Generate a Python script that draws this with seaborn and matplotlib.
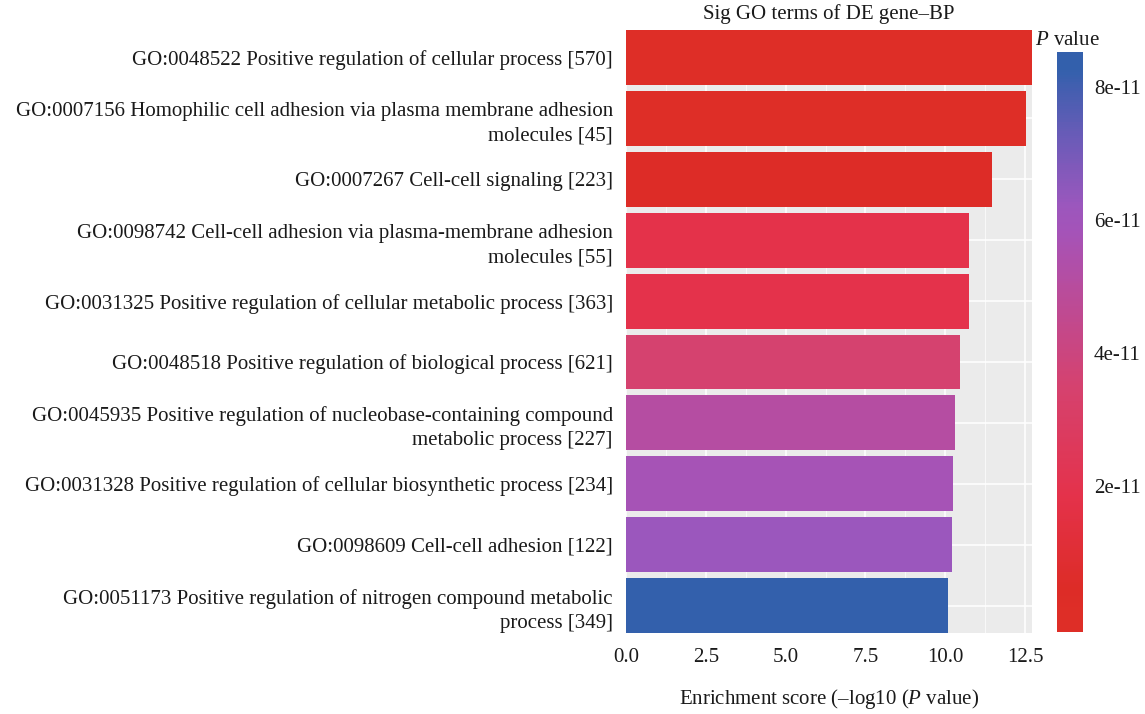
import matplotlib
matplotlib.use("Agg")
import matplotlib.pyplot as plt
import numpy as np
import pandas as pd
import seaborn as sns
from matplotlib.colors import LinearSegmentedColormap, ListedColormap, Normalize
from matplotlib.cm import ScalarMappable
from matplotlib.ticker import MultipleLocator, FuncFormatter

# GO terms (top to bottom) as in the figure
terms = [
    "GO:0048522 Positive regulation of cellular process [570]",
    "GO:0007156 Homophilic cell adhesion via plasma membrane adhesion\nmolecules [45]",
    "GO:0007267 Cell-cell signaling [223]",
    "GO:0098742 Cell-cell adhesion via plasma-membrane adhesion\nmolecules [55]",
    "GO:0031325 Positive regulation of cellular metabolic process [363]",
    "GO:0048518 Positive regulation of biological process [621]",
    "GO:0045935 Positive regulation of nucleobase-containing compound\nmetabolic process [227]",
    "GO:0031328 Positive regulation of cellular biosynthetic process [234]",
    "GO:0098609 Cell-cell adhesion [122]",
    "GO:0051173 Positive regulation of nitrogen compound metabolic\nprocess [349]",
]
scores = [12.71, 12.52, 11.46, 10.74, 10.73, 10.46, 10.29, 10.24, 10.21, 10.08]
p_values = [1.95e-13, 3.0e-13, 3.5e-12, 1.82e-11, 1.86e-11, 3.5e-11, 5.1e-11, 5.75e-11, 6.2e-11, 8.3e-11]
cbar_ticks = [2e-11, 4e-11, 6e-11, 8e-11]

df = pd.DataFrame({"term": terms, "score": scores, "p": p_values})

sns.set_theme(style="darkgrid")
plt.rcParams["font.family"] = ["Liberation Serif", "DejaVu Serif"]
plt.rcParams["mathtext.fontset"] = "custom"
plt.rcParams["mathtext.rm"] = "Liberation Serif"
plt.rcParams["mathtext.it"] = "Liberation Serif:italic"
FS = 15
TXT = "#1a1a1a"

# red -> blue gradient as it looks in the printed figure
cmap = LinearSegmentedColormap.from_list("pval", [
    (0.0, "#DE2E27"),
    (0.05, "#DD2C27"),
    (0.22, "#E4324B"),
    (0.42, "#D5426F"),
    (0.61, "#B64DA0"),
    (0.70, "#A553B8"),
    (0.75, "#9B57BD"),
    (0.87, "#6C5BB8"),
    (1.0, "#3360AC"),
])
norm = Normalize(vmin=min(p_values), vmax=max(p_values))
bar_colors = [cmap(norm(v)) for v in p_values]

fig = plt.figure(figsize=(11.45, 7.14), dpi=100)
ax = fig.add_axes([0.5467, 0.1134, 0.3545, 0.8445])
ax.set_facecolor("#EBEBEB")

sns.barplot(data=df, x="score", y="term", hue="term", palette=bar_colors,
            legend=False, width=0.9, saturation=1, linewidth=0, ax=ax)

ax.set_xlim(0, max(scores))
ax.set_ylim(len(terms) - 0.55, -0.45)
ax.xaxis.set_major_locator(MultipleLocator(2.5))
ax.xaxis.set_minor_locator(MultipleLocator(1.25))
ax.xaxis.set_major_formatter(FuncFormatter(lambda v, _: f"{v:.1f}"))
ax.set_axisbelow(True)
ax.grid(which="major", color="white", linewidth=1.1)
ax.grid(which="minor", axis="x", color="white", linewidth=0.5)
ax.grid(which="minor", axis="y", visible=False)
for s in ax.spines.values():
    s.set_visible(False)

ax.tick_params(axis="both", which="major", length=3.5, width=0.8, color="#333333",
               labelsize=FS, labelcolor=TXT)
ax.tick_params(axis="x", which="major", pad=7)
ax.tick_params(axis="x", which="minor", length=0)
ax.tick_params(axis="y", pad=6)
for lab in ax.get_yticklabels():
    lab.set_linespacing(1.4)

ax.set_ylabel("")
ax.set_xlabel(r"Enrichment score (–log10 ($\it{P}$ value)", fontsize=FS,
              color=TXT, labelpad=15)
ax.set_title("Sig GO terms of DE gene–BP", fontsize=FS, color=TXT, pad=8)

# colour bar; bar ends run half a bin past the data range, like ggplot's guide
half_bin = (max(p_values) - min(p_values)) / 38
cnorm = Normalize(vmin=min(p_values) - half_bin, vmax=max(p_values) + half_bin)
levels = np.linspace(cnorm.vmin, cnorm.vmax, 256)
ccmap = ListedColormap([cmap(np.clip(norm(v), 0, 1)) for v in levels])

cax = fig.add_axes([0.9231, 0.1148, 0.0227, 0.8123])
sm = ScalarMappable(norm=cnorm, cmap=ccmap)
cbar = fig.colorbar(sm, cax=cax, ticks=cbar_ticks)
cbar.outline.set_visible(False)
cax.yaxis.set_major_formatter(FuncFormatter(lambda v, _: f"{v:.0e}"))
cax.tick_params(axis="y", direction="in", length=4, width=1, color="white",
                left=True, right=True, labelsize=FS, labelcolor=TXT, pad=8)
fig.text(0.9035, 0.937, r"$\it{P}$ value", fontsize=FS, color=TXT,
         ha="left", va="baseline")

fig.savefig("out.png", dpi=100)
